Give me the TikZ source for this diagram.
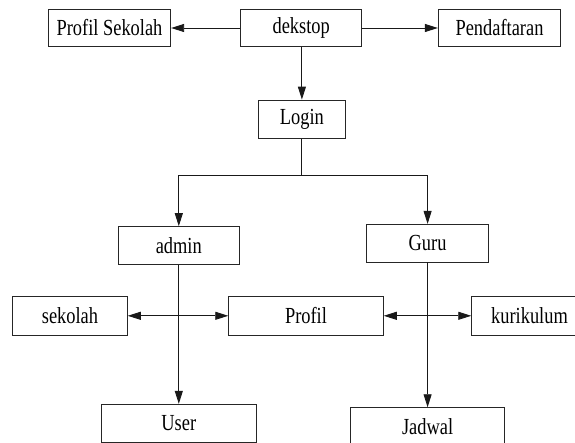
\documentclass[tikz,border=0pt]{standalone}
\usepackage{fontspec}
\setmainfont[FakeStretch=0.8]{Liberation Serif}
\usetikzlibrary{arrows.meta}
\tikzset{
  box/.style={draw=black!85, line width=0.9pt, rectangle, inner sep=0pt,
    font=\fontsize{23}{27}\selectfont, text=black},
  conn/.style={draw=black!90, line width=0.9pt},
  arr/.style={conn, -{Triangle[length=13pt,width=8pt]}},
  darr/.style={conn, {Triangle[length=13pt,width=8pt]}-{Triangle[length=13pt,width=8pt]}}
}
\begin{document}
\begin{tikzpicture}[x=1pt,y=-1pt]
\useasboundingbox (0,0) rectangle (575,443);
\clip (0,0) rectangle (575,443);
\node[box, minimum width=122.4pt, minimum height=37.4pt] (profsek) at (109.5,28) {Profil Sekolah};
\node[box, minimum width=121pt, minimum height=37.4pt] (dekstop) at (301.2,28) {dekstop};
\node[box, minimum width=122.4pt, minimum height=37.4pt] (pendaf) at (499.5,28) {Pendaftaran};
\node[box, minimum width=87.7pt, minimum height=38.3pt] (login) at (301.9,119.2) {Login};
\node[box, minimum width=120.4pt, minimum height=38.3pt] (admin) at (178.8,245.8) {admin};
\node[box, minimum width=121.6pt, minimum height=37.7pt] (guru) at (427.6,243.2) {Guru};
\node[box, minimum width=114.6pt, minimum height=38.3pt] (sekolah) at (70,315.8) {sekolah};
\node[box, minimum width=154.6pt, minimum height=38.3pt] (profil) at (306,315.8) {Profil};
\node[box, minimum width=115.6pt, minimum height=38.3pt] (kurikulum) at (529.5,315.8) {kurikulum};
\node[box, minimum width=154.7pt, minimum height=38pt] (user) at (178.8,423.3) {User};
\node[box, minimum width=154.4pt, minimum height=38pt] (jadwal) at (427.6,426.7) {Jadwal};

\draw[arr] (dekstop.west) -- (profsek.east);
\draw[arr] (dekstop.east) -- (pendaf.west);
\draw[arr] (dekstop.south -| login.north) -- (login.north);
\draw[conn] (login.south) -- (login.south |- 0,175.7) coordinate (split);
\draw[arr] (split) -| (admin.north);
\draw[arr] (split) -| (guru.north);
\draw[arr] (admin.south) -- (user.north);
\draw[arr] (guru.south) -- (jadwal.north);
\draw[darr] (sekolah.east) -- (profil.west);
\draw[darr] (profil.east) -- (kurikulum.west);
\end{tikzpicture}
\end{document}
